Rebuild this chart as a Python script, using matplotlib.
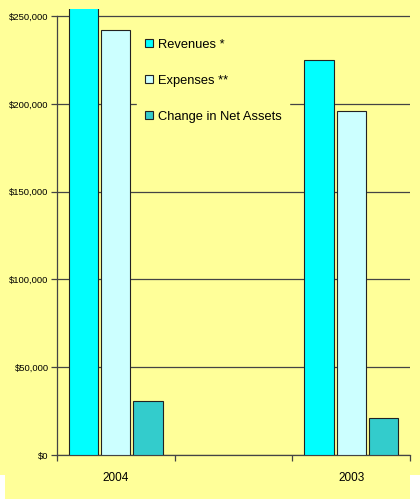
import numpy as np
import matplotlib.pyplot as plt
from matplotlib.patches import Rectangle

plt.rcParams['font.family'] = ['Liberation Sans', 'DejaVu Sans']

years = ['2004', '', '2003']
revenues = [262000, 0, 225000]
expenses = [242000, 0, 196000]
change = [31000, 0, 21000]
series = ['Revenues *', 'Expenses **', 'Change in Net Assets']
colors = ['#00FFFF', '#CCFFFF', '#33CCCC']
yticks = [0, 50000, 100000, 150000, 200000, 250000]

bg = '#FFFF99'
W, H = 420, 499
fig = plt.figure(figsize=(W/100, H/100), dpi=100, facecolor=bg)
ax = fig.add_axes([57/W, 44/H, 353/W, 446/H])
ax.set_facecolor(bg)

x = np.arange(len(years))
w = 0.248
step = 0.274
for i, (vals, c, lab) in enumerate(zip([revenues, expenses, change], colors, series)):
    idx = [k for k in range(len(years)) if vals[k] > 0]
    ax.bar(x[idx] + (i - 1)*step, [vals[k] for k in idx], width=w, color=c,
           edgecolor='#222222', linewidth=0.8, label=lab, zorder=3)

ax.set_xlim(-0.5, 2.5)
ax.set_ylim(0, 254000)
ax.set_yticks(yticks)
ax.set_yticklabels(['${:,}'.format(v) for v in yticks], fontsize=6.8)
ax.yaxis.grid(True, color='#444444', linewidth=0.9, zorder=1)
ax.set_xticks([-0.5, 0.5, 1.5, 2.5])
ax.set_xticklabels([])
ax.set_xticks([0, 2], minor=True)
ax.set_xticklabels(['2004', '2003'], minor=True, fontsize=8.5)
ax.tick_params(axis='x', which='minor', length=0, pad=12)
ax.tick_params(axis='both', which='major', length=4, width=0.9, color='#444444')
ax.tick_params(axis='y', pad=2)
for s in ['top', 'right']:
    ax.spines[s].set_visible(False)
for s in ['left', 'bottom']:
    ax.spines[s].set_color('#444444')
    ax.spines[s].set_linewidth(0.9)
ax.spines['left'].set_bounds(0, 250000)

leg = ax.legend(loc='upper left', bbox_to_anchor=(137/W, 1 - 31/H),
                bbox_transform=fig.transFigure, fontsize=9.3, frameon=True,
                facecolor=bg, edgecolor=bg, framealpha=1, fancybox=False,
                handlelength=0.6, handleheight=0.6, handletextpad=0.4,
                labelspacing=1.85, borderpad=0.6, borderaxespad=0)
leg.set_zorder(5)
for h in leg.legend_handles:
    h.set_edgecolor('#222222')
    h.set_linewidth(0.8)

fig.patches.append(Rectangle((0, 0), 5/W, 24/H, transform=fig.transFigure,
                             facecolor='white', edgecolor='none'))
fig.patches.append(Rectangle((410/W, 0), 10/W, 24/H, transform=fig.transFigure,
                             facecolor='white', edgecolor='none'))

fig.savefig('out.png', dpi=100, facecolor=bg)
